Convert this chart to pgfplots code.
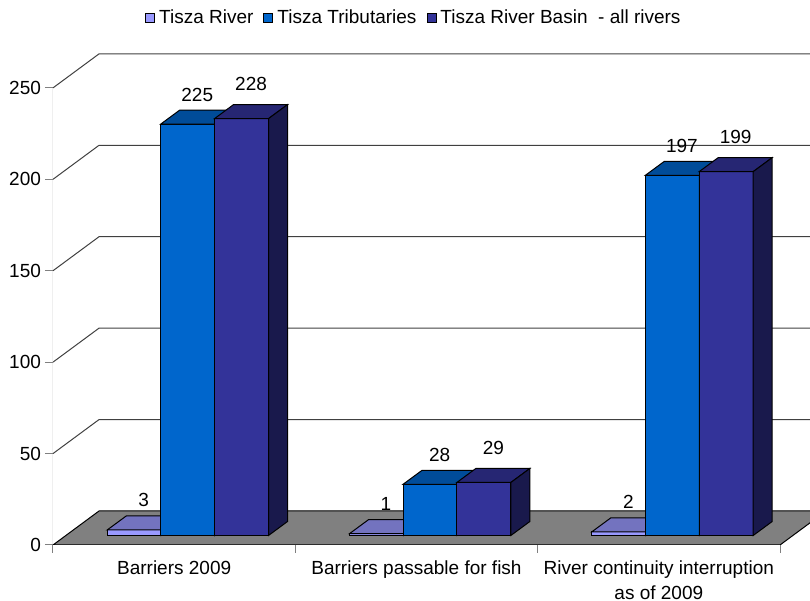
\documentclass[border=0pt]{standalone}
\usepackage{pgfplots}
\pgfplotsset{compat=1.18}
\usepackage{pgfplotstable}
\usepackage{fontspec}
\setmainfont{Liberation Sans}

\definecolor{riverc}{HTML}{9999FF}
\definecolor{tribc}{HTML}{0066CC}
\definecolor{basinc}{HTML}{333399}
\definecolor{floorc}{HTML}{808080}

\newcommand\chartfont{\fontsize{9.5}{12.5}\selectfont}

% 3-D bar drawn at its top front centre; \barval is the bar value
\newcommand\prismmark[2]{%
  \pgfdeclareplotmark{#1}{%
    \pgfmathsetmacro\hh{\barval*0.9142}%
    \pgfsetlinewidth{0.5pt}\pgfsetstrokecolor{black}%
    \pgfsetfillcolor{#2}%
    \pgfpathrectangle{\pgfpoint{-13.5pt}{-\hh pt}}{\pgfpoint{27pt}{\hh pt}}%
    \pgfusepath{fill,stroke}%
    \pgfsetfillcolor{#2!75!black}%
    \pgfpathmoveto{\pgfpoint{-13.5pt}{0pt}}%
    \pgfpathlineto{\pgfpoint{13.5pt}{0pt}}%
    \pgfpathlineto{\pgfpoint{23pt}{7pt}}%
    \pgfpathlineto{\pgfpoint{-4pt}{7pt}}%
    \pgfpathclose
    \pgfusepath{fill,stroke}%
    \pgfsetfillcolor{#2!50!black}%
    \pgfpathmoveto{\pgfpoint{13.5pt}{0pt}}%
    \pgfpathlineto{\pgfpoint{23pt}{7pt}}%
    \pgfpathlineto{\pgfpoint{23pt}{7pt-\hh pt}}%
    \pgfpathlineto{\pgfpoint{13.5pt}{-\hh pt}}%
    \pgfpathclose
    \pgfusepath{fill,stroke}%
  }}
\prismmark{prismR}{riverc}
\prismmark{prismT}{tribc}
\prismmark{prismB}{basinc}

\pgfplotstableread{
cat river trib basin
0   3     225  228
1   1     28   29
2   2     197  199
}\barsdata

\begin{document}
\begin{tikzpicture}
\begin{axis}[
  x=121.165pt, y=0.9142pt,
  xmin=0, xmax=3.1238, ymin=0, ymax=276.2,
  axis line style={draw=none},
  tick pos=left, tick align=outside,
  major tick length=4pt,
  tick style={draw=floorc, line width=0.5pt},
  ytick={0,50,...,250},
  yticklabel style={xshift=1.5pt},
  xtick={0,1,2,3}, xticklabels={,,,},
  extra x ticks={0.5,1.5,2.5},
  extra x tick labels={{Barriers 2009},{Barriers passable for fish},{River continuity interruption\\as of 2009}},
  extra x tick style={major tick length=0pt},
  xticklabel style={align=center, yshift=-4.5pt},
  every tick label/.append style={font=\chartfont},
  /pgf/number format/assume math mode=true,
  legend style={at={(0.478,1.0436)}, anchor=center, draw=none, fill=none,
    font=\chartfont, legend columns=-1,
    /tikz/every even column/.append style={column sep=3pt}},
  nodes near coords style={font=\chartfont, anchor=center, xshift=4.75pt},
]
% floor
\addplot[forget plot, fill=floorc, draw=black, line width=0.5pt]
  coordinates {(0,0) (3,0) (3.19,18.6) (0.19,18.6)} -- cycle;
% back wall grid lines
\addplot[forget plot, black!75, line width=0.5pt] coordinates {(0,50) (0.19,68.6) (3.2,68.6)};
\addplot[forget plot, black!75, line width=0.5pt] coordinates {(0,100) (0.19,118.6) (3.2,118.6)};
\addplot[forget plot, black!75, line width=0.5pt] coordinates {(0,150) (0.19,168.6) (3.2,168.6)};
\addplot[forget plot, black!75, line width=0.5pt] coordinates {(0,200) (0.19,218.6) (3.2,218.6)};
\addplot[forget plot, black!75, line width=0.5pt] coordinates {(0,250) (0.19,268.6) (3.2,268.6)};
% value axis line
\addplot[forget plot, floorc, line width=0.5pt] coordinates {(0,0) (0,250)};

\addplot[only marks, mark=prismR, visualization depends on={\thisrow{river} \as \barval},
  nodes near coords, point meta=explicit, nodes near coords style={yshift=15pt},
  legend image code/.code={\filldraw[draw=black, fill=riverc, line width=0.5pt] (0pt,-2.25pt) rectangle (4.5pt,2.25pt);}]
  table[x expr=\thisrow{cat}+0.335, y expr=\thisrow{river}+5.2, meta=river] {\barsdata};
\addplot[only marks, mark=prismT, visualization depends on={\thisrow{trib} \as \barval},
  nodes near coords, point meta=explicit, nodes near coords style={yshift=14.6pt},
  legend image code/.code={\filldraw[draw=black, fill=tribc, line width=0.5pt] (0pt,-2.25pt) rectangle (4.5pt,2.25pt);}]
  table[x expr=\thisrow{cat}+0.556, y expr=\thisrow{trib}+5.2, meta=trib] {\barsdata};
\addplot[only marks, mark=prismB, visualization depends on={\thisrow{basin} \as \barval},
  nodes near coords, point meta=explicit, nodes near coords style={yshift=17.2pt},
  legend image code/.code={\filldraw[draw=black, fill=basinc, line width=0.5pt] (0pt,-2.25pt) rectangle (4.5pt,2.25pt);}]
  table[x expr=\thisrow{cat}+0.778, y expr=\thisrow{basin}+5.2, meta=basin] {\barsdata};
\legend{Tisza River, Tisza Tributaries, Tisza River Basin~~- all rivers}

\coordinate (bbA) at (axis cs:-0.2187,-30.63);
\coordinate (bbB) at (axis cs:3.1238,298.07);
\end{axis}
\pgfresetboundingbox
\path[use as bounding box] (bbA) rectangle (bbB);
\end{tikzpicture}
\end{document}
